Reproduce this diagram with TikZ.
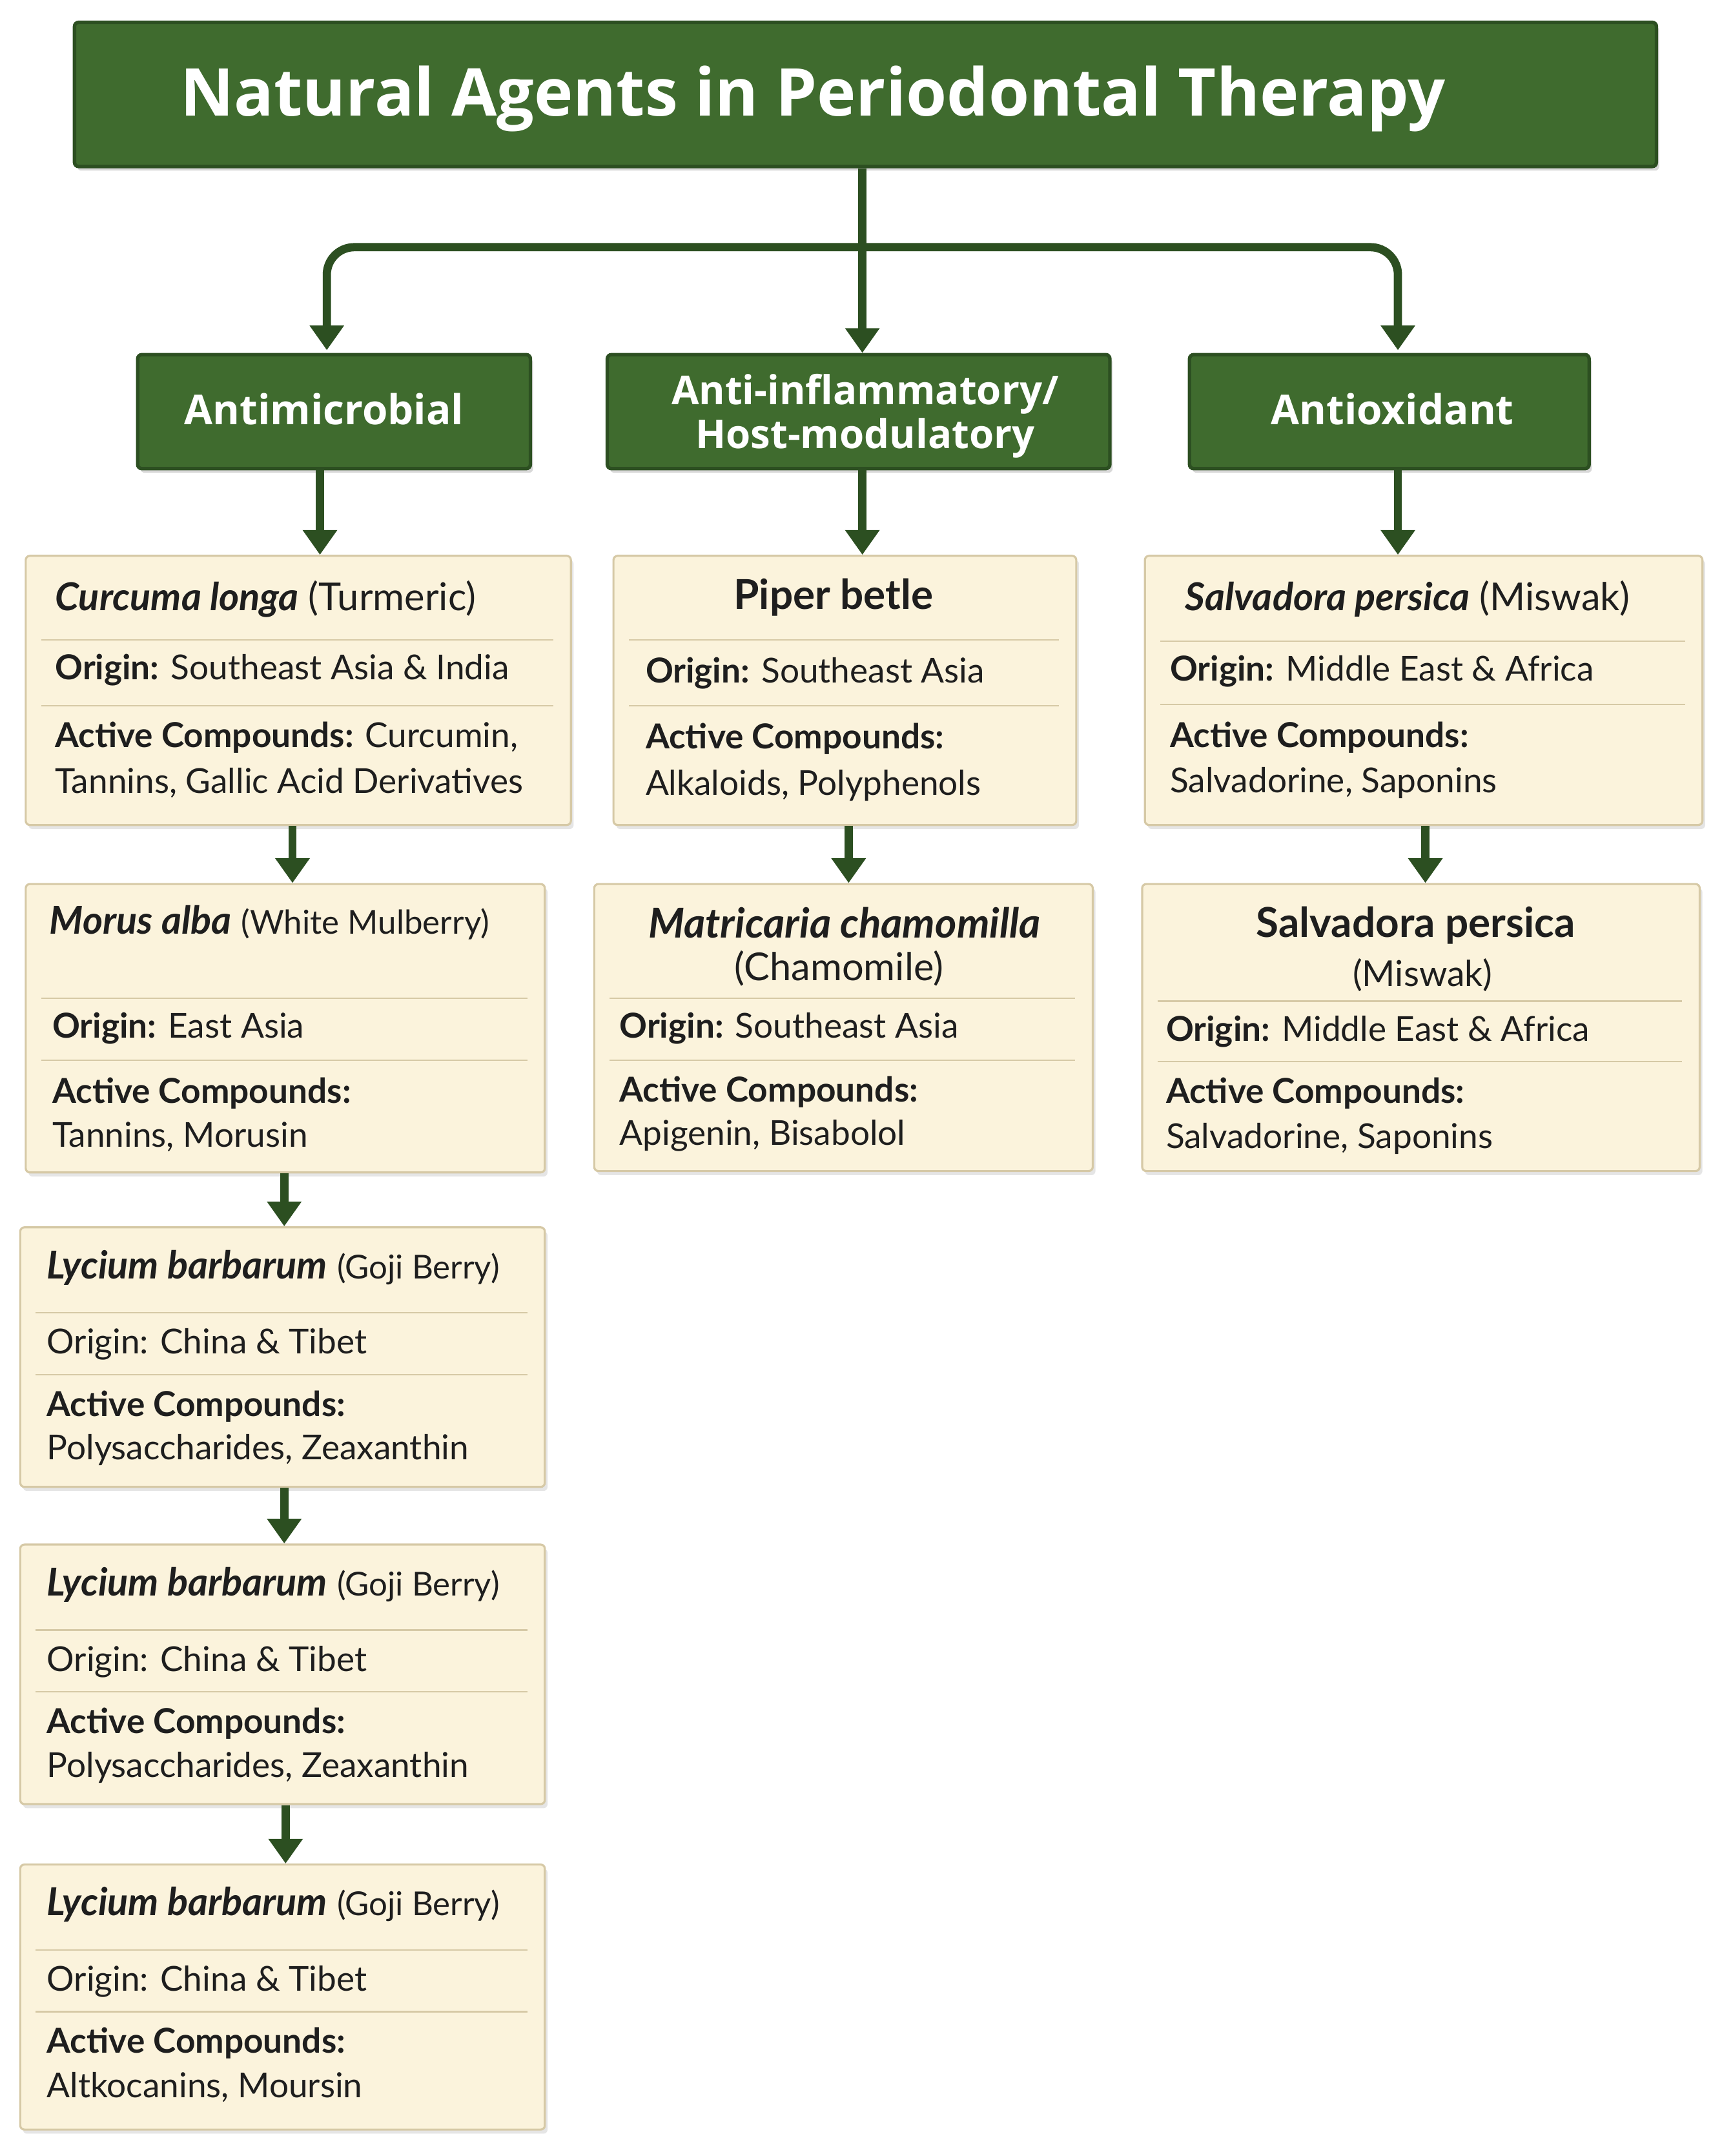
\documentclass[tikz,border=0pt]{standalone}
\usepackage{fontspec}
\setmainfont{Lato}
\newfontfamily\hd{Open Sans}
\usetikzlibrary{arrows.meta,shadows}
\definecolor{grn}{HTML}{3F6B2E}
\definecolor{grnd}{HTML}{2C4F21}
\definecolor{cream}{HTML}{FBF3DC}
\definecolor{creamb}{HTML}{D6C9A6}
\definecolor{txt}{HTML}{1E1E1E}
\begin{document}
\begin{tikzpicture}[x=1pt,y=-1pt,
 gbox/.style={draw=grnd,line width=2.5pt,fill=grn,rounded corners=3pt,anchor=north west,inner sep=0pt,drop shadow={opacity=0.3,shadow xshift=2pt,shadow yshift=-3pt}},
 card/.style={draw=creamb,line width=1.5pt,fill=cream,rounded corners=3pt,anchor=north west,inner sep=0pt,drop shadow={opacity=0.2,shadow xshift=2pt,shadow yshift=-3pt}},
 conn/.style={draw=grnd,line width=6pt,-{Triangle[width=24pt,length=18pt]}},
 sep/.style={draw=creamb,line width=1.2pt},
 tl/.style={anchor=west,inner sep=0pt,text=txt,font=\fontsize{28}{30}\selectfont},
 tx/.style={anchor=west,inner sep=0pt,text=txt,font=\fontsize{25}{28}\selectfont},
 tc/.style={anchor=center,inner sep=0pt,text=txt,font=\fontsize{28}{30}\selectfont},
 wt/.style={text=white,font=\hd\bfseries\fontsize{30}{31}\selectfont,align=center}]
\useasboundingbox[fill=white] (0,0) rectangle (1254,1570);
% title
\node[gbox,minimum width=1152,minimum height=105] (title) at (53,15) {};
\node[text=white,font=\hd\bfseries\fontsize{48}{50}\selectfont] at (592,72) {Natural Agents in Periodontal Therapy};
% categories
\node[gbox,minimum width=286,minimum height=83] (k1) at (99,257) {};
\node[wt] at (236,298) {Antimicrobial};
\node[gbox,minimum width=366,minimum height=83] (k2) at (441,257) {};
\node[wt,font=\hd\bfseries\fontsize{29}{32}\selectfont] at (630,303) {Anti-inflammatory/\\Host-modulatory};
\node[gbox,minimum width=291,minimum height=83] (k3) at (865,257) {};
\node[wt] at (1014,298) {Antioxidant};
% connectors from title
\coordinate (j) at (628,180);
\draw[conn] (title.south -| j) -- (k2.north -| j);
\draw[conn,rounded corners=20pt] (j) -- (238,180) -- (238,255);
\draw[conn,rounded corners=20pt] (j) -- (1018,180) -- (1018,255);
% cards
\node[card,minimum width=397,minimum height=196] (c1) at (18,404) {};
\node[card,minimum width=378,minimum height=210] (c2) at (18,643) {};
\node[card,minimum width=382,minimum height=189] (c3) at (14,893) {};
\node[card,minimum width=382,minimum height=189] (c4) at (14,1124) {};
\node[card,minimum width=382,minimum height=193] (c5) at (14,1357) {};
\node[card,minimum width=337,minimum height=196] (c6) at (446,404) {};
\node[card,minimum width=363,minimum height=209] (c7) at (432,643) {};
\node[card,minimum width=406,minimum height=196] (c8) at (833,404) {};
\node[card,minimum width=406,minimum height=209] (c9) at (831,643) {};
% arrows
\draw[conn] (k1.south -| 233,0) -- (c1.north -| 233,0);
\draw[conn] (k2.south -| 628,0) -- (c6.north -| 628,0);
\draw[conn] (k3.south -| 1018,0) -- (c8.north -| 1018,0);
\draw[conn] (c1.south -| 213,0) -- (c2.north -| 213,0);
\draw[conn] (c2.south -| 207,0) -- (c3.north -| 207,0);
\draw[conn] (c3.south -| 207,0) -- (c4.north -| 207,0);
\draw[conn] (c4.south -| 208,0) -- (c5.north -| 208,0);
\draw[conn] (c6.south -| 618,0) -- (c7.north -| 618,0);
\draw[conn] (c8.south -| 1038,0) -- (c9.north -| 1038,0);
% card 1
\node[tl] at (40,436) {\textbf{\textit{Curcuma longa}} (Turmeric)};
\draw[sep] (30,466) -- (403,466); \draw[sep] (30,514) -- (403,514);
\node[tx] at (40,488) {\textbf{Origin:} Southeast Asia \& India};
\node[tx] at (40,537) {\textbf{Active Compounds:} Curcumin,};
\node[tx] at (40,570) {Tannins, Gallic Acid Derivatives};
% card 2
\node[tl] at (36,672) {\textbf{\textit{Morus alba}} {\fontsize{24}{26}\selectfont(White Mulberry)}};
\draw[sep] (30,727) -- (384,727); \draw[sep] (30,772) -- (384,772);
\node[tx] at (38,749) {\textbf{Origin:} East Asia};
\node[tx] at (38,796) {\textbf{Active Compounds:}};
\node[tx] at (38,828) {Tannins, Morusin};
% card 3-5
\foreach \y/\last in {893/{Polysaccharides, Zeaxanthin},1124/{Polysaccharides, Zeaxanthin},1357/{Altkocanins, Moursin}}{
 \node[tl] at (34,\y+30) {\textbf{\textit{Lycium barbarum}} {\fontsize{24}{26}\selectfont(Goji Berry)}};
 \draw[sep] (26,\y+63) -- (384,\y+63); \draw[sep] (26,\y+108) -- (384,\y+108);
 \node[tx] at (34,\y+86) {Origin: China \& Tibet};
 \node[tx] at (34,\y+131) {\textbf{Active Compounds:}};
 \node[tx] at (34,\y+163) {\last};
}
% card 6
\node[tc,font=\bfseries\fontsize{30}{32}\selectfont] at (607,435) {Piper betle};
\draw[sep] (458,466) -- (771,466); \draw[sep] (458,514) -- (771,514);
\node[tx] at (470,490) {\textbf{Origin:} Southeast Asia};
\node[tx] at (470,538) {\textbf{Active Compounds:}};
\node[tx] at (470,572) {Alkaloids, Polyphenols};
% card 7
\node[tc,font=\bfseries\itshape\fontsize{30}{32}\selectfont] at (615,672) {Matricaria chamomilla};
\node[tc] at (611,705) {(Chamomile)};
\draw[sep] (444,727) -- (783,727); \draw[sep] (444,772) -- (783,772);
\node[tx] at (451,749) {\textbf{Origin:} Southeast Asia};
\node[tx] at (451,795) {\textbf{Active Compounds:}};
\node[tx] at (451,827) {Apigenin, Bisabolol};
% card 8
\node[tl] at (863,436) {\textbf{\textit{Salvadora persica}} (Miswak)};
\draw[sep] (845,467) -- (1227,467); \draw[sep] (845,513) -- (1227,513);
\node[tx] at (852,489) {\textbf{Origin:} Middle East \& Africa};
\node[tx] at (852,537) {\textbf{Active Compounds:}};
\node[tx] at (852,570) {Salvadorine, Saponins};
% card 9
\node[tc,font=\bfseries\fontsize{30}{32}\selectfont] at (1031,674) {Salvadora persica};
\node[tc,font=\fontsize{26}{28}\selectfont] at (1036,710) {(Miswak)};
\draw[sep] (843,729) -- (1225,729); \draw[sep] (843,773) -- (1225,773);
\node[tx] at (849,751) {\textbf{Origin:} Middle East \& Africa};
\node[tx] at (849,796) {\textbf{Active Compounds:}};
\node[tx] at (849,829) {Salvadorine, Saponins};
\end{tikzpicture}
\end{document}
